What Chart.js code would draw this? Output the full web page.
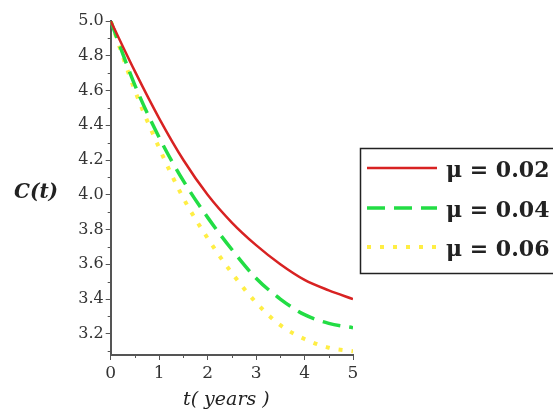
<!DOCTYPE html>
<html lang="en">
  <head>
    <meta charset="UTF-8" />
    <title>C(t) vs t</title>
    <style>
      body {
        margin: 0;
        padding: 0;
        background-color: #fff;
      }
      .chart {
        width: 553px;
        height: 416px;
      }
    </style>
  </head>
  <body>
    <div class="chart">
      <canvas id="ctChart" width="553" height="416"></canvas>
    </div>

    <script src="https://cdn.jsdelivr.net/npm/chart.js"></script>
    <script>
      // data
      const tValues = [0, 0.5, 1, 1.5, 2, 2.5, 3, 3.5, 4, 4.5, 5];
      const mu002 = [5.0, 4.71, 4.44, 4.2, 4.0, 3.84, 3.71, 3.6, 3.51, 3.45, 3.4];
      const mu004 = [5.0, 4.63, 4.33, 4.08, 3.87, 3.685, 3.52, 3.4, 3.31, 3.26, 3.235];
      const mu006 = [5.0, 4.6, 4.27, 3.98, 3.75, 3.55, 3.38, 3.25, 3.17, 3.12, 3.1];
      const seriesLabels = ["\u03bc = 0.02", "\u03bc = 0.04", "\u03bc = 0.06"];
      const xTicks = [0, 1, 2, 3, 4, 5];
      const yTicks = [3.2, 3.4, 3.6, 3.8, 4.0, 4.2, 4.4, 4.6, 4.8, 5.0];

      const toPoints = (ys) => tValues.map((t, i) => ({ x: t, y: ys[i] }));

      const serif = "'DejaVu Serif', 'Liberation Serif', serif";
      const axisColor = "#555";

      // minor ticks, axis titles and the boxed legend
      const extras = {
        id: "extras",
        afterDraw(chart) {
          const ctx = chart.ctx;
          const xs = chart.scales.x;
          const ys = chart.scales.y;
          const area = chart.chartArea;
          ctx.save();
          ctx.strokeStyle = axisColor;
          ctx.lineWidth = 1;
          // minor y ticks
          for (let v = 3.1; v < 5.0; v += 0.2) {
            const py = Math.round(ys.getPixelForValue(v)) + 0.5;
            ctx.beginPath();
            ctx.moveTo(area.left - 3, py);
            ctx.lineTo(area.left, py);
            ctx.stroke();
          }
          // minor x ticks
          for (let v = 0.5; v < 5; v += 1) {
            const px = Math.round(xs.getPixelForValue(v)) + 0.5;
            ctx.beginPath();
            ctx.moveTo(px, area.bottom);
            ctx.lineTo(px, area.bottom + 3);
            ctx.stroke();
          }
          // axis titles
          ctx.fillStyle = "#222";
          ctx.textBaseline = "middle";
          ctx.textAlign = "left";
          ctx.font = "italic bold 20px " + serif;
          ctx.fillText("C(t)", 14, 193);
          ctx.font = "italic 19px " + serif;
          ctx.fillText("t( years )", 183, 400);

          // legend box
          ctx.strokeStyle = "#222";
          ctx.lineWidth = 1.5;
          ctx.strokeRect(360.5, 148.5, 220, 125);
          const rows = [168, 208, 247];
          chart.data.datasets.forEach((ds, i) => {
            const y = rows[i];
            ctx.beginPath();
            ctx.strokeStyle = ds.borderColor;
            ctx.lineWidth = ds.borderWidth;
            ctx.setLineDash(ds.borderDash || []);
            ctx.moveTo(367, y);
            ctx.lineTo(437, y);
            ctx.stroke();
            ctx.setLineDash([]);
            ctx.fillStyle = "#222";
            ctx.font = "bold 22px " + serif;
            ctx.textAlign = "left";
            ctx.fillText(ds.label, 446, y + 3);
          });
          ctx.restore();
        },
      };

      const ctChart = new Chart(document.getElementById("ctChart"), {
        type: "line",
        data: {
          datasets: [
            {
              label: seriesLabels[0],
              data: toPoints(mu002),
              borderColor: "#d82222",
              borderWidth: 2.5,
              pointRadius: 0,
              cubicInterpolationMode: "monotone",
            },
            {
              label: seriesLabels[1],
              data: toPoints(mu004),
              borderColor: "#22dd44",
              borderWidth: 3.5,
              borderDash: [18, 9],
              pointRadius: 0,
              cubicInterpolationMode: "monotone",
            },
            {
              label: seriesLabels[2],
              data: toPoints(mu006),
              borderColor: "#ffee44",
              borderWidth: 4,
              borderDash: [4, 9],
              pointRadius: 0,
              cubicInterpolationMode: "monotone",
            },
          ],
        },
        options: {
          responsive: false,
          animation: false,
          layout: { padding: { top: 21, right: 200, left: 0, bottom: 0 } },
          plugins: { legend: { display: false }, tooltip: { enabled: false } },
          scales: {
            x: {
              type: "linear",
              min: 0,
              max: 5,
              afterBuildTicks: (scale) => {
                scale.ticks = xTicks.map((v) => ({ value: v }));
              },
              afterFit: (scale) => {
                scale.height = 61;
              },
              border: { color: axisColor, width: 2 },
              grid: {
                drawOnChartArea: false,
                drawTicks: true,
                tickLength: 5,
                color: axisColor,
              },
              ticks: {
                color: "#333",
                padding: 3,
                font: { family: serif, size: 17 },
                callback: (v) => String(v),
              },
            },
            y: {
              type: "linear",
              min: 3.078,
              max: 5.0,
              afterBuildTicks: (scale) => {
                scale.ticks = yTicks.map((v) => ({ value: v }));
              },
              afterFit: (scale) => {
                scale.width = 110.7;
              },
              border: { color: axisColor, width: 2 },
              grid: {
                drawOnChartArea: false,
                drawTicks: true,
                tickLength: 5,
                color: axisColor,
              },
              ticks: {
                color: "#333",
                padding: 2,
                font: { family: serif, size: 16 },
                callback: (v) => Number(v).toFixed(1),
              },
            },
          },
        },
        plugins: [extras],
      });
    </script>
  </body>
</html>
